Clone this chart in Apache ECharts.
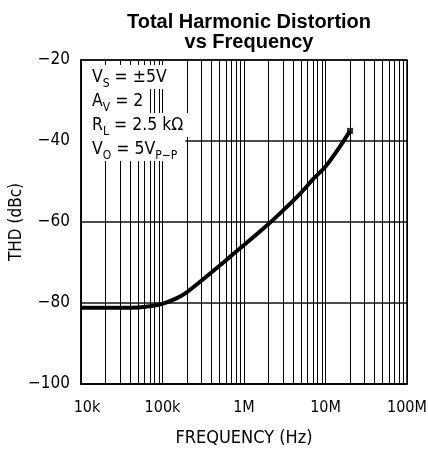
<!DOCTYPE html>
<html>
<head>
<meta charset="utf-8">
<script src="https://cdn.jsdelivr.net/npm/echarts@6/dist/echarts.min.js"></script>
<style>html,body{margin:0;padding:0;background:#fff}#c{width:428px;height:455px}</style>
</head>
<body>
<div id="c"></div>
<script>
// Data
const freqs = [1e4, 2e4, 5e4, 7e4, 1e5, 1.5e5, 2e5, 3e5, 5e5, 7e5, 1e6, 2e6, 3e6, 5e6, 7e6, 1e7, 1.5e7, 2e7];
const thd   = [-81.2, -81.2, -81.1, -80.8, -80.2, -78.8, -77.3, -74.5, -70.8, -68.3, -65.7, -60.5, -57.2, -52.8, -49.5, -46.3, -41.4, -37.5];
const xTickValues = [1e4, 1e5, 1e6, 1e7, 1e8];
const xTickLabels = ['10k', '100k', '1M', '10M', '100M'];
const yTickLabels = ['−100', '−80', '−60', '−40', '−20'];
const gridDecades = [1e4, 1e5, 1e6, 1e7];
const gridMultipliers = [2, 3, 4, 5, 6, 7, 8, 9];
const titleLines = ['Total Harmonic Distortion', 'vs Frequency'];
const conditions = [
  '{m|V}{s|S}{m| = ±5V}',
  '{m|A}{s|V}{m| = 2}',
  '{m|R}{s|L}{m| = 2.5 kΩ}',
  '{m|V}{s|O}{m| = 5V}{s|P−P}'
];

const FONT = "'Liberation Sans Narrow', 'DejaVu Sans Condensed', 'DejaVu Sans', sans-serif";

const gridLineData = [];
gridDecades.forEach(d => {
  gridLineData.push({ xAxis: d });
  gridMultipliers.forEach(m => gridLineData.push({ xAxis: d * m }));
});

const chart = echarts.init(document.getElementById('c'), null, { renderer: 'canvas' });

const condTops = [65, 89, 113, 137];
const condRightPad = [4, 4, 6, 8];
const graphics = conditions.map((t, i) => ({
  type: 'text',
  z: 100,
  x: 82,
  y: condTops[i],
  style: {
    text: t,
    rich: {
      m: { fontSize: 17.5, fontFamily: FONT, fill: '#000', lineHeight: 22 },
      s: { fontSize: 12, fontFamily: FONT, fill: '#000', padding: [14, 0, 0, 0], lineHeight: 22 }
    },
    backgroundColor: '#fff',
    padding: [1, condRightPad[i], 1, 10],
    verticalAlign: 'top',
    align: 'left'
  }
}));

chart.setOption({
  animation: false,
  backgroundColor: '#fff',
  title: {
    text: titleLines.join('\n'),
    left: 244,
    top: 7,
    textAlign: 'center',
    textStyle: { fontFamily: "'Liberation Sans', Arial, sans-serif", fontWeight: 'bold', fontSize: 20, lineHeight: 20, color: '#000' }
  },
  grid: { left: 81, top: 60, width: 326, height: 324, outerBoundsMode: 'none', containLabel: false, show: true, borderColor: '#000', borderWidth: 1.5, backgroundColor: 'transparent' },
  xAxis: {
    type: 'log',
    logBase: 10,
    min: 1e4,
    max: 1e8,
    name: 'FREQUENCY (Hz)',
    nameLocation: 'middle',
    nameGap: 45,
    nameMoveOverlap: false,
    nameTextStyle: { fontFamily: FONT, fontSize: 18, color: '#000' },
    axisLine: { show: true, lineStyle: { color: '#000', width: 1.5 } },
    axisTick: { show: false },
    splitLine: { show: true, lineStyle: { color: '#000', width: 1 } },
    axisLabel: {
      margin: 16,
      fontFamily: FONT, fontSize: 16, color: '#000',
      formatter: v => {
        const i = xTickValues.findIndex(t => Math.abs(t - v) / t < 1e-6);
        if (i < 0) return '';
        return i === 0 ? '{a|' + xTickLabels[i] + '}' : xTickLabels[i];
      },
      rich: { a: { fontFamily: FONT, fontSize: 16, color: '#000', padding: [0, 0, 0, 12] } }
    }
  },
  yAxis: {
    type: 'value',
    min: -100,
    max: -20,
    interval: 20,
    name: 'THD (dBc)',
    nameLocation: 'middle',
    nameGap: 56,
    nameMoveOverlap: false,
    nameRotate: 90,
    nameTextStyle: { fontFamily: FONT, fontSize: 17, color: '#000' },
    axisLine: { show: true, lineStyle: { color: '#000', width: 1.5 } },
    axisTick: { show: false },
    splitLine: { show: true, lineStyle: { color: '#111', width: 1.6 } },
    axisLabel: {
      margin: 11,
      fontFamily: FONT, fontSize: 17, color: '#000',
      formatter: v => yTickLabels[Math.round((v + 100) / 20)]
    }
  },
  graphic: graphics,
  series: [
    {
      type: 'line',
      data: freqs.map((f, i) => [f, thd[i]]),
      smooth: 0.3,
      showSymbol: false,
      lineStyle: { color: '#000', width: 4 },
      z: 5,
      markLine: {
        silent: true,
        symbol: ['none', 'none'],
        label: { show: false },
        lineStyle: { color: '#000', width: 1, type: 'solid' },
        data: gridLineData,
        z: 1
      }
    },
    {
      type: 'scatter',
      data: [[freqs[freqs.length - 1], thd[thd.length - 1]]],
      symbol: 'rect',
      symbolSize: 6,
      itemStyle: { color: '#000' },
      z: 6
    }
  ]
});
</script>
</body>
</html>
